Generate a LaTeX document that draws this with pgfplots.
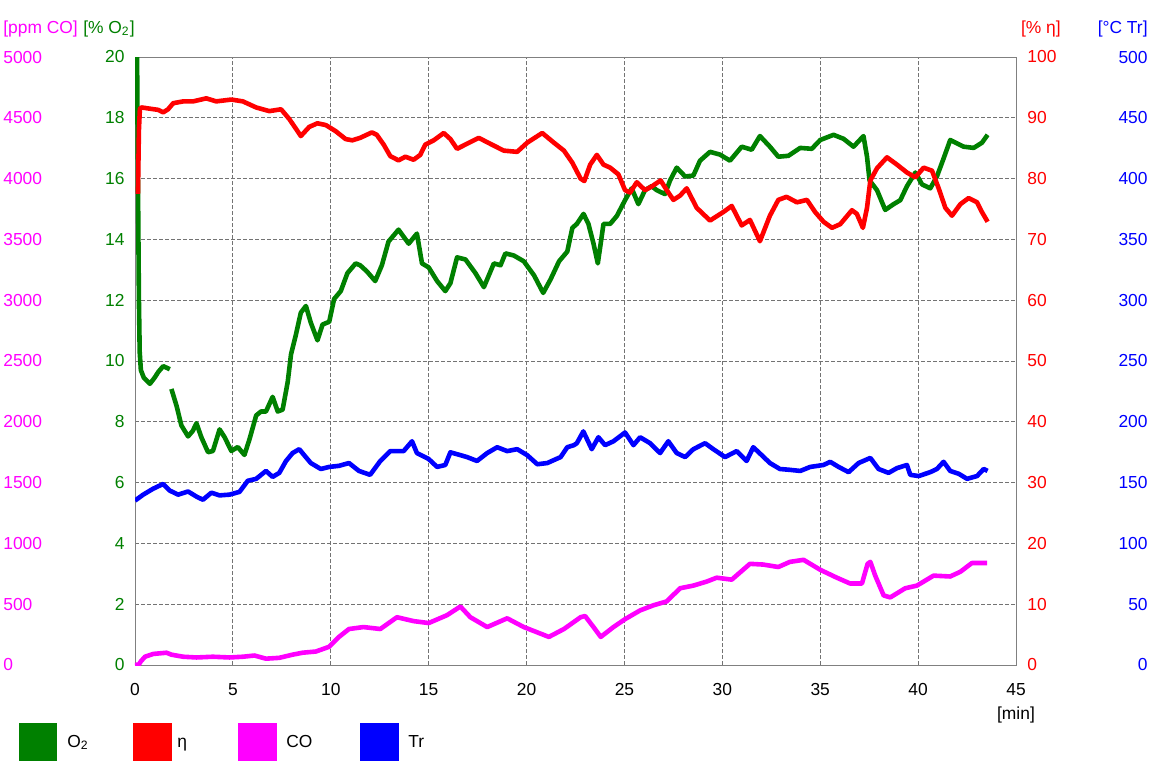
\documentclass[border=0pt]{standalone}
\usepackage{fontspec}
\setmainfont{Liberation Sans}
\usepackage{pgfplots}
\pgfplotsset{compat=1.18}
\definecolor{cgreen}{RGB}{0,128,0}
\definecolor{cred}{RGB}{255,0,0}
\definecolor{cmag}{RGB}{255,0,255}
\definecolor{cblue}{RGB}{0,0,255}
\newcommand{\fs}{\fontsize{8.7}{10.4}\selectfont}
\pgfplotsset{
  base/.style={
    scale only axis, width=440.5pt, height=304pt,
    at={(67.5pt,51.5pt)}, anchor=south west,
    xmin=0, xmax=45, major tick length=0pt,
    tick label style={font=\fs},
    /pgf/number format/assume math mode=true,
    /pgf/number format/1000 sep={},
    scaled y ticks=false,
    every axis plot/.append style={line width=2.3pt, line join=round, no markers},
  },
  over/.style={axis x line=none, y axis line style={draw=none}},
}
\begin{document}
\begin{tikzpicture}
\path[use as bounding box] (0,0) rectangle (576pt,384pt);
% ---------- O2 (main axis) ----------
\begin{axis}[base,
  ymin=0, ymax=20, ytick={0,2,...,20}, xtick={0,5,...,45},
  axis line style={black!50},
  grid=major, grid style={black!55, line width=0.4pt, dash pattern=on 2pt off 1pt},
  yticklabel style={anchor=east, inner sep=0pt, xshift=-5pt, text=cgreen},
  xticklabel style={anchor=north, inner sep=0pt, yshift=-9pt},
  xlabel={[min]},
  every axis x label/.style={at={(rel axis cs:1,0)}, anchor=center, yshift=-25pt, font=\fs},
  ylabel={[\% O\textsubscript{2}]},
  every axis y label/.style={at={(rel axis cs:0,1)}, anchor=east, yshift=14pt, inner sep=0pt, font=\fs, text=cgreen},
]
\addplot[cgreen] coordinates {
(0.10,20.5)(0.15,16)(0.20,12)(0.24,10.3)(0.30,9.7)(0.45,9.45)(0.76,9.25)(1.00,9.45)(1.19,9.64)(1.44,9.83)(1.78,9.73)};
\addplot[cgreen] coordinates {
(1.86,9.08)(2.12,8.53)(2.37,7.88)(2.71,7.52)(2.95,7.7)(3.14,7.95)(3.39,7.49)(3.73,7.0)(3.98,7.04)(4.32,7.75)(4.58,7.49)(4.92,7.04)(5.25,7.17)(5.59,6.91)(5.85,7.43)(6.19,8.21)(6.44,8.34)(6.69,8.34)(7.03,8.82)(7.29,8.34)(7.54,8.4)(7.80,9.31)(7.97,10.22)(8.22,10.87)(8.47,11.59)(8.73,11.81)(8.98,11.26)(9.32,10.68)(9.58,11.2)(9.92,11.29)(10.17,12.04)(10.51,12.3)(10.85,12.89)(11.27,13.21)(11.50,13.15)(11.84,12.95)(12.27,12.63)(12.61,13.15)(12.95,13.93)(13.46,14.32)(13.98,13.86)(14.40,14.19)(14.66,13.21)(15.00,13.08)(15.43,12.63)(15.85,12.30)(16.11,12.56)(16.45,13.41)(16.88,13.34)(17.39,12.89)(17.82,12.43)(18.33,13.21)(18.67,13.15)(18.92,13.54)(19.35,13.47)(19.86,13.28)(20.38,12.82)(20.85,12.24)(21.23,12.69)(21.66,13.28)(22.08,13.6)(22.34,14.38)(22.57,14.51)(22.91,14.84)(23.16,14.51)(23.42,13.86)(23.64,13.21)(23.93,14.51)(24.27,14.51)(24.61,14.77)(25.03,15.29)(25.37,15.68)(25.71,15.16)(26.05,15.62)(26.39,15.75)(26.65,15.62)(27.07,15.49)(27.33,15.94)(27.67,16.36)(28.10,16.07)(28.52,16.1)(28.86,16.59)(29.37,16.88)(29.88,16.79)(30.39,16.59)(30.99,17.05)(31.50,16.95)(31.92,17.4)(32.43,17.05)(32.86,16.72)(33.37,16.75)(33.98,17.01)(34.57,16.98)(35.00,17.27)(35.68,17.44)(36.19,17.31)(36.70,17.05)(37.21,17.40)(37.39,16.72)(37.52,15.94)(37.90,15.62)(38.32,14.97)(38.75,15.16)(39.09,15.29)(39.43,15.75)(39.86,16.2)(40.20,15.81)(40.62,15.68)(40.96,16.07)(41.30,16.66)(41.64,17.27)(42.33,17.05)(42.84,17.01)(43.26,17.18)(43.55,17.44)};
\end{axis}
% ---------- eta ----------
\begin{axis}[base, over, axis y line*=right,
  ymin=0, ymax=100, ytick={0,10,...,100},
  yticklabel style={anchor=west, inner sep=0pt, xshift=5.5pt, text=cred},
  ylabel={[\% η]},
  every axis y label/.style={at={(rel axis cs:1,1)}, anchor=west, xshift=2.3pt, yshift=14pt, inner sep=0pt, font=\fs, text=cred},
]
\addplot[cred] coordinates {
(0.15,77.5)(0.20,88)(0.25,91.5)(0.34,91.7)(0.76,91.5)(1.19,91.3)(1.44,90.9)(1.69,91.4)(1.95,92.4)(2.46,92.7)(2.97,92.7)(3.64,93.2)(4.15,92.7)(4.92,93.0)(5.51,92.7)(6.19,91.7)(6.86,91.1)(7.46,91.4)(7.88,89.8)(8.22,88.2)(8.47,87.0)(8.90,88.5)(9.32,89.1)(9.75,88.8)(10.25,87.8)(10.76,86.5)(11.10,86.3)(11.50,86.7)(12.10,87.6)(12.35,87.2)(12.70,85.6)(13.04,83.7)(13.46,83.0)(13.81,83.6)(14.23,83.1)(14.57,83.9)(14.83,85.6)(15.26,86.3)(15.77,87.5)(16.11,86.5)(16.45,84.9)(16.88,85.6)(17.56,86.7)(18.16,85.7)(18.84,84.6)(19.52,84.4)(20.03,85.9)(20.80,87.5)(21.40,85.9)(21.91,84.6)(22.34,82.6)(22.76,80.0)(22.95,79.6)(23.25,82.3)(23.59,83.9)(23.93,82.3)(24.27,81.8)(24.69,80.7)(25.03,78.1)(25.29,77.7)(25.63,79.4)(26.05,78.1)(26.39,78.7)(26.85,79.7)(27.16,78.1)(27.50,76.5)(27.84,77.2)(28.18,78.4)(28.69,75.2)(29.37,73.1)(30.05,74.5)(30.48,75.5)(30.99,72.3)(31.41,73.2)(31.92,69.7)(32.43,73.9)(32.86,76.5)(33.28,77.0)(33.81,76.1)(34.32,76.5)(34.74,74.5)(35.17,72.9)(35.60,71.9)(36.02,72.5)(36.62,74.8)(36.87,74.2)(37.18,71.9)(37.39,75.2)(37.56,79.7)(37.90,81.7)(38.41,83.5)(38.92,82.3)(39.43,81.0)(39.86,80.2)(40.28,81.8)(40.71,81.3)(41.05,78.4)(41.39,75.2)(41.73,73.9)(42.16,75.8)(42.58,76.8)(43.01,76.1)(43.26,74.5)(43.55,72.9)};
\end{axis}
% ---------- CO ----------
\begin{axis}[base, over, axis y line*=left,
  ymin=0, ymax=5000, ytick={0,500,...,5000},
  yticklabel style={anchor=west, inner sep=0pt, xshift=-66pt, text=cmag},
  ylabel={[ppm CO]},
  every axis y label/.style={at={(rel axis cs:0,1)}, anchor=west, xshift=-66pt, yshift=14pt, inner sep=0pt, font=\fs, text=cmag},
]
\addplot[cmag] coordinates {
(0,0)(0.20,5)(0.30,30)(0.51,68)(0.93,91)(1.61,101)(1.86,85)(2.46,68)(3.14,62)(3.98,68)(4.83,62)(5.51,68)(6.10,78)(6.69,52)(7.37,59)(8.05,85)(8.56,101)(9.24,111)(9.92,150)(10.42,231)(10.93,296)(11.67,312)(12.53,296)(13.38,393)(14.23,361)(15.00,345)(15.94,410)(16.62,481)(17.13,393)(17.99,312)(19.01,384)(19.86,312)(21.14,231)(21.91,296)(22.76,393)(22.99,403)(23.42,312)(23.79,231)(24.44,312)(25.03,377)(25.80,449)(26.48,491)(27.16,523)(27.84,631)(28.52,653)(29.20,686)(29.71,718)(30.48,702)(31.41,832)(32.09,826)(32.86,806)(33.45,848)(34.15,865)(35.00,783)(35.85,718)(36.53,670)(37.13,670)(37.42,832)(37.56,848)(37.81,735)(38.24,572)(38.58,556)(39.34,631)(39.94,653)(40.79,735)(41.64,728)(42.16,767)(42.75,839)(43.52,839)};
\end{axis}
% ---------- Tr ----------
\begin{axis}[base, over, axis y line*=right,
  ymin=0, ymax=500, ytick={0,50,...,500},
  yticklabel style={anchor=east, inner sep=0pt, xshift=66pt, text=cblue},
  ylabel={[°C Tr]},
  every axis y label/.style={at={(rel axis cs:1,1)}, anchor=east, xshift=66pt, yshift=14pt, inner sep=0pt, font=\fs, text=cblue},
]
\addplot[cblue] coordinates {
(0,135.2)(0.42,140.1)(0.93,145.0)(1.44,148.9)(1.78,143.4)(2.20,140.1)(2.71,142.7)(3.14,138.5)(3.47,135.9)(3.90,141.7)(4.32,139.5)(4.83,140.1)(5.34,142.4)(5.76,151.5)(6.19,153.1)(6.69,159.6)(7.03,154.7)(7.37,158.0)(7.71,167.7)(8.05,174.3)(8.39,177.5)(8.64,172.6)(8.98,166.1)(9.49,161.2)(9.92,162.9)(10.42,163.8)(10.93,166.1)(11.44,159.6)(12.01,156.4)(12.53,167.8)(13.04,175.9)(13.72,175.9)(14.15,184.0)(14.40,174.3)(15.00,169.4)(15.43,162.9)(15.85,164.5)(16.11,174.9)(16.62,172.6)(16.96,171.0)(17.47,167.8)(17.99,174.3)(18.50,179.1)(19.01,175.9)(19.52,177.5)(20.03,172.6)(20.55,165.1)(21.06,166.1)(21.74,171.0)(22.08,179.1)(22.42,180.8)(22.57,182.4)(22.90,192.1)(23.33,177.5)(23.67,187.3)(24.01,180.8)(24.44,184.0)(25.03,191.2)(25.46,180.8)(25.80,187.3)(26.31,182.4)(26.82,174.3)(27.24,184.0)(27.67,174.3)(28.10,171.0)(28.52,177.5)(29.12,182.4)(29.54,177.5)(30.14,171.0)(30.73,175.9)(31.24,167.8)(31.58,179.1)(32.01,172.6)(32.43,166.1)(32.94,161.2)(33.45,160.5)(33.98,159.6)(34.49,162.9)(35.17,164.5)(35.51,167.1)(35.94,162.9)(36.45,158.6)(36.96,166.1)(37.56,170.3)(37.98,161.2)(38.49,158.0)(38.92,161.9)(39.43,164.5)(39.60,156.4)(40.03,155.4)(40.62,158.6)(40.96,161.2)(41.30,167.1)(41.64,159.6)(42.07,157.3)(42.50,153.1)(43.01,155.4)(43.35,161.2)(43.55,159.6)};
\end{axis}
% ---------- legend ----------
\fill[cgreen] (9.5pt,3.5pt) rectangle (28.5pt,22.5pt);
\node[anchor=base west, inner sep=0pt, font=\fs] at (33.5pt,10.3pt) {O\textsubscript{2}};
\fill[cred] (66.5pt,3.5pt) rectangle (86pt,22.5pt);
\node[anchor=base west, inner sep=0pt, font=\fs] at (88.5pt,10.3pt) {η};
\fill[cmag] (119pt,3.5pt) rectangle (138.5pt,22.5pt);
\node[anchor=base west, inner sep=0pt, font=\fs] at (143pt,10.3pt) {CO};
\fill[cblue] (180pt,3.5pt) rectangle (199.5pt,22.5pt);
\node[anchor=base west, inner sep=0pt, font=\fs] at (204pt,10.3pt) {Tr};
\end{tikzpicture}
\end{document}
